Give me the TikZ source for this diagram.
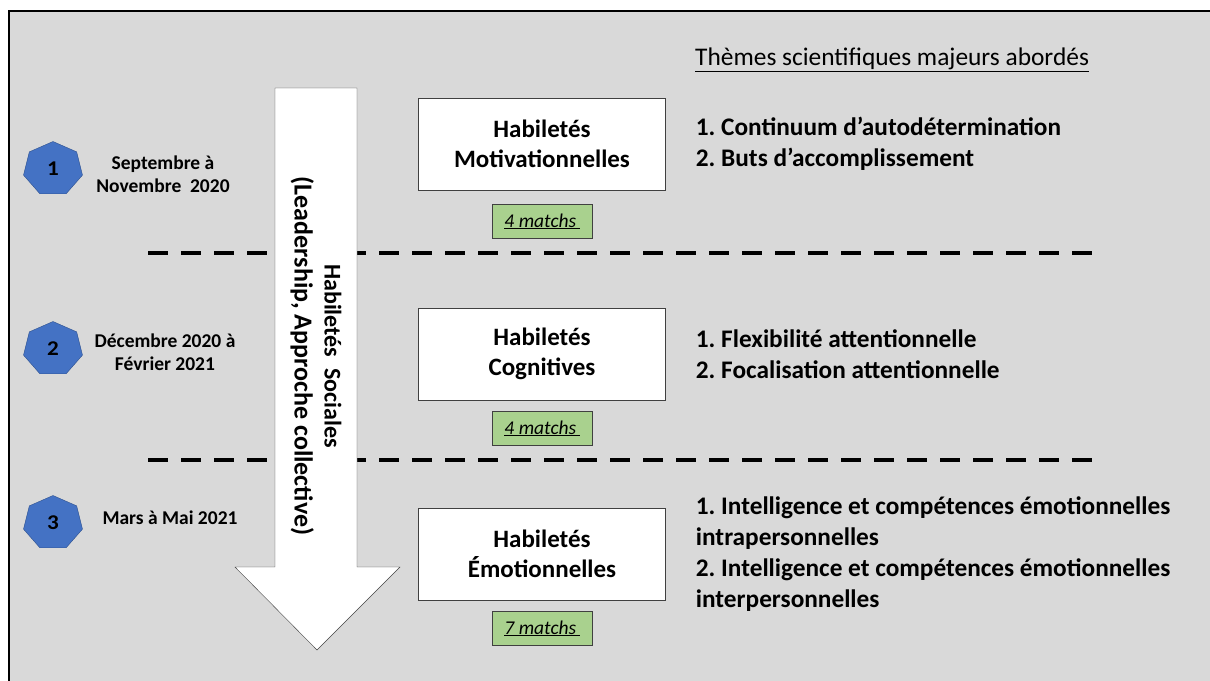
\documentclass[tikz,border=0pt]{standalone}
\usepackage{fontspec}
\setmainfont{Carlito}
\usepackage{tikz}
\usetikzlibrary{positioning,shapes.geometric}
\frenchspacing

\definecolor{fond}{HTML}{D9D9D9}
\definecolor{bleu}{HTML}{4472C4}
\definecolor{bleufonce}{HTML}{2F528F}
\definecolor{vert}{HTML}{A9D18E}

\begin{document}
\begin{tikzpicture}[x=1pt,y=-1pt,
    hepta/.style={regular polygon,regular polygon sides=7,minimum size=55pt,inner sep=0pt,
      xscale=1.1,transform shape,fill=bleu,draw=bleufonce,font=\fontsize{21}{24}\selectfont\bfseries},
    periode/.style={align=center,font=\fontsize{19.5}{23.5}\selectfont\bfseries},
    habilete/.style={draw=black!75,fill=white,minimum width=247pt,minimum height=92pt,
      align=center,font=\fontsize{25}{30.5}\selectfont\bfseries},
    matchs/.style={draw=black!75,fill=vert,minimum width=100pt,minimum height=34pt,
      inner sep=0pt,font=\fontsize{19.5}{23}\selectfont\itshape},
    themes/.style={align=left,inner sep=0pt,font=\fontsize{25.3}{31}\selectfont\bfseries},
    sep/.style={line width=4pt,dash pattern=on 20pt off 13pt}]
  \useasboundingbox (0,0) rectangle (1210,680);
  \clip (0,0) rectangle (1210,680);
  \draw[line width=1.5pt,fill=fond] (9,11) rectangle (1230,700);

  % separateurs
  \coordinate (s1a) at (148,253); \coordinate (s1b) at (1102,253);
  \coordinate (s2a) at (148,460); \coordinate (s2b) at (1102,460);
  \draw[sep] (s1a) -- (s1b);
  \draw[sep] (s2a) -- (s2b);

  % fleche
  \draw[draw=black!75,fill=white] (275,88) -- (357,88) -- (357,567) -- (400,567)
    -- (317,650) -- (235,567) -- (275,567) -- cycle;
  \node[rotate=-90,align=center,font=\fontsize{24}{30}\selectfont\bfseries] (soc) at (316,356)
    {Habiletés\ \ Sociales\\\fontsize{26}{30}\selectfont(Leadership, Approche collective)};

  \node[hepta] (p1) at (53,169) {1};
  \node[hepta] (p2) at (53,349) {2};
  \node[hepta] (p3) at (53,523) {3};
  \node[periode] (d1) at (163,174) {Septembre à\\Novembre\ \ 2020};
  \node[periode] (d2) at (165,352) {Décembre 2020 à\\Février 2021};
  \node[periode] (d3) at (170,518) {Mars à Mai 2021};

  \node[habilete] (mot) at (542,144) {Habiletés\\Motivationnelles};
  \node[habilete] (cog) at (542,354) {Habiletés\\Cognitives};
  \node[habilete] (emo) at (542,554) {Habiletés\\Émotionnelles};
  \node[matchs] (m1) [below = 14pt of mot] {\underline{4 matchs\,}};
  \node[matchs] (m2) [below = 11pt of cog] {\underline{4 matchs\,}};
  \node[matchs] (m3) [below = 11pt of emo] {\underline{7 matchs\,}};

  \node[anchor=west,inner sep=0pt,font=\fontsize{25.4}{30}\selectfont] (titre) at (695,60)
    {\underline{Thèmes scientifiques majeurs abordés}};
  \node[themes] (t1) [right = 30pt of mot] {1. Continuum d’autodétermination\\2. Buts d’accomplissement};
  \node[themes] (t2) [right = 30pt of cog] {1. Flexibilité attentionnelle\\2. Focalisation attentionnelle};
  \node[themes] (t3) [right = 30pt of emo] {1. Intelligence et compétences émotionnelles\\intrapersonnelles\\
    2. Intelligence et compétences émotionnelles\\interpersonnelles};
\end{tikzpicture}
\end{document}
